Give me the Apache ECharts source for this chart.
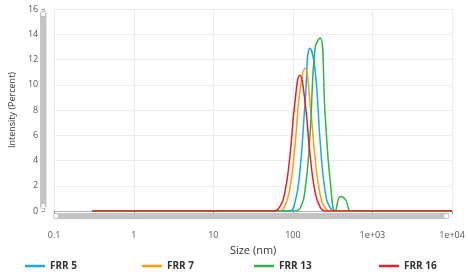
<!DOCTYPE html>
<html><head><meta charset="utf-8">
<script src="https://cdn.jsdelivr.net/npm/echarts@6/dist/echarts.min.js"></script>
<style>html,body{margin:0;padding:0;background:#fff}#c{width:468px;height:272px}</style>
</head><body><div id="c"></div>
<script>
// Size bins (nm)
var sizes = [0.3, 1, 10, 43.82, 50.75, 58.77, 68.06, 78.82, 91.28, 105.7, 122.4, 141.8, 164.2, 190.1, 220.2, 255.0, 295.3, 342.0, 396.1, 458.7, 531.2, 615.1, 1000, 10000];
// Intensity (%) per bin
var frr5  = [0, 0, 0, 0, 0, 0, 0, 0, 0, 0.6, 3.1, 8.4, 12.9, 11.2, 5.5, 1.5, 0.25, 0, 0, 0, 0, 0, 0, 0];
var frr7  = [0, 0, 0, 0, 0, 0, 0, 0.35, 1.7, 5.0, 9.5, 11.3, 8.6, 4.2, 1.3, 0.25, 0, 0, 0, 0, 0, 0, 0, 0];
var frr13 = [0, 0, 0, 0, 0, 0, 0, 0, 0, 0, 0.2, 1.6, 6.0, 12.9, 13.7, 7.5, 2.3, 0, 1.15, 0.9, 0, 0, 0, 0];
var frr16 = [0, 0, 0, 0, 0, 0, 0.3, 1.4, 4.2, 8.5, 10.75, 8.7, 4.5, 1.5, 0.3, 0, 0, 0, 0, 0, 0, 0, 0, 0];
var seriesNames = ['FRR 5', 'FRR 7', 'FRR 13', 'FRR 16'];
var seriesColors = ['#1aa7ee', '#f5a10f', '#2fb34a', '#ee1d25'];
var xTickLabels = ['0.1', '1', '10', '100', '1e+03', '1e+04'];

var allData = [frr5, frr7, frr13, frr16];
function pairs(arr){ return sizes.map(function(s,i){ return [s, arr[i]]; }); }

var legendLefts = [20, 137, 249, 374];
var chart = echarts.init(document.getElementById('c'), null, {renderer:'canvas'});
var font = '"Open Sans", "Noto Sans", sans-serif';
chart.setOption({
  animation: false,
  textStyle: {fontFamily: font},
  grid: {left: 48, right: 16, top: 9, bottom: 61, show: false},
  legend: seriesNames.map(function(n, i){
    return {data: [n], left: legendLefts[i], top: 256, icon: 'rect', itemWidth: 20, itemHeight: 2.5, itemGap: 6,
      textStyle: {fontFamily: font, fontSize: 10, fontWeight: 'bold', color: '#333'}};
  }),
  xAxis: {
    type: 'log', logBase: 10, min: 0.1, max: 10000, offset: 11,
    name: 'Size (nm)', nameLocation: 'middle', nameGap: 19,
    nameTextStyle: {fontSize: 11, color: '#333', fontFamily: font},
    axisLine: {show: true, lineStyle: {color: '#b0b0b0', width: 1}},
    axisTick: {show: true, length: 3, lineStyle: {color: '#999'}},
    axisLabel: {fontSize: 9, color: '#555', margin: 9, fontFamily: font,
      formatter: function(v){ var k = Math.round(Math.log10(v)) + 1; return xTickLabels[k] || ''; }},
    splitLine: {show: true, lineStyle: {color: '#ececec', width: 1}},
    minorTick: {show: false}
  },
  yAxis: {
    type: 'value', min: 0, max: 16, interval: 2, offset: 10,
    name: 'Intensity (Percent)', nameLocation: 'middle', nameGap: 25,
    nameTextStyle: {fontSize: 9, color: '#333', fontFamily: font},
    axisLine: {show: true, lineStyle: {color: '#b0b0b0', width: 1}},
    axisTick: {show: true, length: 3, lineStyle: {color: '#999'}},
    axisLabel: {fontSize: 9, color: '#555', margin: 6, fontFamily: font},
    splitLine: {show: true, lineStyle: {color: '#ececec', width: 1}}
  },
  dataZoom: [
    {type: 'slider', xAxisIndex: 0, filterMode: 'none', start: 0, end: 100,
     left: 54, right: 22, bottom: 53, height: 6,
     backgroundColor: '#c8c8c8', fillerColor: '#c4c4c4', borderColor: 'transparent',
     showDataShadow: false, showDetail: false, brushSelect: false, moveHandleSize: 0,
     handleIcon: 'rect', handleSize: '80%', handleStyle: {color: '#fff', borderColor: '#999', borderWidth: 0.5}},
    {type: 'slider', yAxisIndex: 0, filterMode: 'none', start: 0, end: 100,
     left: 40, width: 6, top: 13, bottom: 65,
     backgroundColor: '#c8c8c8', fillerColor: '#c4c4c4', borderColor: 'transparent',
     showDataShadow: false, showDetail: false, brushSelect: false, moveHandleSize: 0,
     handleIcon: 'rect', handleSize: '80%', handleStyle: {color: '#fff', borderColor: '#999', borderWidth: 0.5}}
  ],
  series: allData.map(function(arr, i){
    return {name: seriesNames[i], type: 'line', data: pairs(arr), smooth: 0.5, showSymbol: false,
      color: seriesColors[i], lineStyle: {width: 1.5, color: seriesColors[i]}, z: 2 + i};
  })
});
</script></body></html>
